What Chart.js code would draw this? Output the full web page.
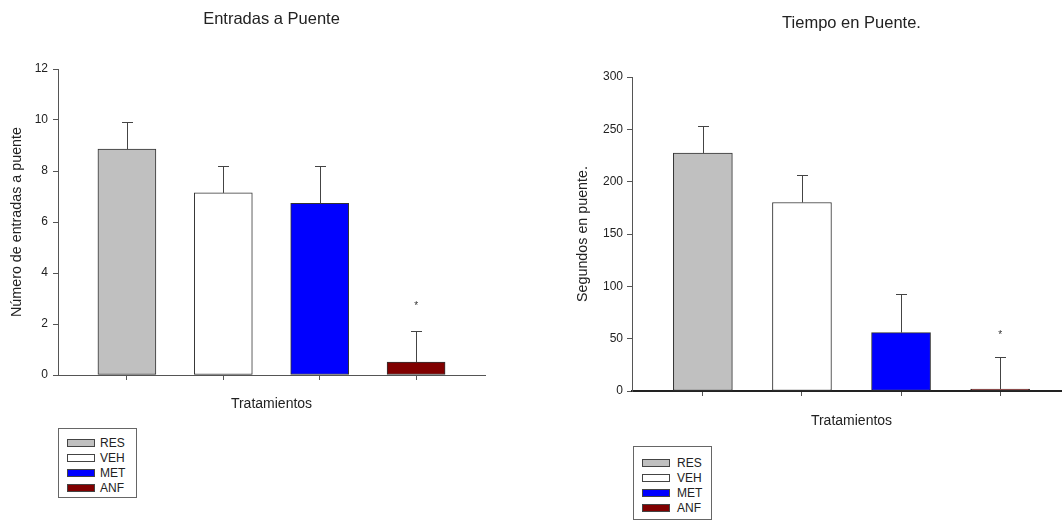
<!DOCTYPE html>
<html><head><meta charset="utf-8">
<script src="https://cdn.jsdelivr.net/npm/chart.js@4/dist/chart.umd.min.js"></script>
<style>
html,body{margin:0;padding:0;width:1062px;height:523px;overflow:hidden;background:#fff;font-family:"Liberation Sans",Arial,sans-serif;}
canvas{position:absolute;top:0;}
#c1{left:0}
#c2{left:540px}
.legend{position:absolute;border:1px solid #666;background:#fff;box-sizing:border-box}
.item{position:absolute;font-size:12px;color:#222;line-height:12px;height:12px;white-space:nowrap}
.sw{position:absolute;box-sizing:border-box;border:1px solid #444;width:28px;height:8px}
</style></head><body>
<canvas id="c1" width="540" height="523"></canvas>
<canvas id="c2" width="540" height="523"></canvas>
<div id="leg1" class="legend" style="left:58px;top:428px;width:79px;height:70px"></div>
<div id="leg2" class="legend" style="left:633px;top:446px;width:79px;height:74px"></div>
<script>
// ---- data ----
const categories = ['RES', 'VEH', 'MET', 'ANF'];
const barColors = ['#c0c0c0', '#ffffff', '#0000ff', '#800000'];

const entradasMean = [8.86, 7.14, 6.73, 0.51];
const entradasErr  = [1.05, 1.04, 1.45, 1.23];
const entradasTicks = [0, 2, 4, 6, 8, 10, 12];
const entradasStar = 2.81;   // value level of the "*" over ANF

const tiempoMean = [227.3, 180.1, 55.8, 1.9];
const tiempoErr  = [25.8, 26.1, 36.6, 30.9];
const tiempoTicks = [0, 50, 100, 150, 200, 250, 300];
const tiempoStar = 56.7;

const starIndex = 3;

Chart.defaults.font.family = '"Liberation Sans", Arial, sans-serif';
Chart.defaults.color = '#222';

function errorPlugin(means, errs, starValue) {
  return {
    id: 'errorBars',
    afterDatasetsDraw(chart) {
      const ctx = chart.ctx, xs = chart.scales.x, ys = chart.scales.y;
      ctx.save();
      ctx.strokeStyle = '#444';
      ctx.lineWidth = 1;
      means.forEach((m, i) => {
        const x = Math.round(xs.getPixelForValue(i)) + 0.5;
        const y0 = ys.getPixelForValue(m);
        const y1 = Math.round(ys.getPixelForValue(m + errs[i])) + 0.5;
        ctx.beginPath();
        ctx.moveTo(x, y0); ctx.lineTo(x, y1);
        ctx.moveTo(x - 5.5, y1); ctx.lineTo(x + 5.5, y1);
        ctx.stroke();
      });
      ctx.fillStyle = '#333';
      ctx.font = '10px "Liberation Sans", Arial, sans-serif';
      ctx.textAlign = 'center';
      ctx.textBaseline = 'alphabetic';
      ctx.fillText('*', xs.getPixelForValue(starIndex), ys.getPixelForValue(starValue) + 6);
      ctx.restore();
    }
  };
}

function makeChart(id, cfg) {
  const data = cfg.means.map((v, i) => ({x: i, y: v}));
  return new Chart(document.getElementById(id), {
    type: 'bar',
    data: {
      labels: categories,
      datasets: [{
        data: data,
        backgroundColor: barColors,
        borderColor: '#333',
        borderWidth: 1,
        borderSkipped: false,
        barThickness: cfg.barW
      }]
    },
    options: {
      responsive: false,
      animation: false,
      events: [],
      layout: {padding: {top: 0, left: 0, right: cfg.padRight, bottom: 0}},
      plugins: {
        legend: {display: false},
        tooltip: {enabled: false},
        title: {
          display: true, text: cfg.title, fullSize: false,
          font: {size: 16.5, weight: 'normal'}, color: '#222',
          padding: {top: cfg.titleTop, bottom: cfg.titleBottom}
        }
      },
      scales: {
        x: {
          type: 'linear', min: -0.715, max: 3.715, offset: false,
          afterBuildTicks: s => { s.ticks = categories.map((c, i) => ({value: i})); },
          afterFit: s => { s.height = cfg.xH; },
          ticks: {display: false},
          grid: {offset: false, drawOnChartArea: false, drawTicks: true, tickLength: 5, color: '#555'},
          border: {display: true, color: cfg.xBorderColor, width: cfg.xBorderW},
          title: {display: true, text: 'Tratamientos', font: {size: 14}, color: '#222',
                  padding: {top: 0, bottom: cfg.xTitlePad}}
        },
        y: {
          min: 0, max: cfg.ticks[cfg.ticks.length - 1],
          afterBuildTicks: s => { s.ticks = cfg.ticks.map(v => ({value: v})); },
          afterFit: s => { s.width = cfg.yW; },
          ticks: {font: {size: 12}, color: '#222', padding: cfg.tickPad},
          grid: {drawOnChartArea: false, drawTicks: true, tickLength: 5, color: '#555'},
          border: {display: true, color: '#555', width: 1},
          title: {display: true, text: cfg.yTitle, font: {size: 14.3}, color: '#222',
                  padding: {top: cfg.yTitlePad, bottom: 0}}
        }
      }
    },
    plugins: [errorPlugin(cfg.means, cfg.errs, cfg.star)]
  });
}

makeChart('c1', {
  means: entradasMean, errs: entradasErr, ticks: entradasTicks, star: entradasStar,
  title: 'Entradas a Puente', yTitle: 'Número de entradas a puente',
  barW: 58, padRight: 55, titleTop: 10, titleBottom: 39.2, xH: 148, yW: 58,
  xTitlePad: 110.6, yTitlePad: 8.4, tickPad: 5, xBorderColor: '#555', xBorderW: 1
});
makeChart('c2', {
  means: tiempoMean, errs: tiempoErr, ticks: tiempoTicks, star: tiempoStar,
  title: 'Tiempo en Puente.', yTitle: 'Segundos en puente.',
  barW: 59, padRight: 9, titleTop: 13.6, titleBottom: 43.6, xH: 132, yW: 92,
  xTitlePad: 93.6, yTitlePad: 34.4, tickPad: 4, xBorderColor: '#222', xBorderW: 2
});

function buildLegend(id, firstRow, textLeft) {
  const el = document.getElementById(id);
  categories.forEach((c, i) => {
    const cy = firstRow + 15 * i;
    const sw = document.createElement('div');
    sw.className = 'sw';
    sw.style.left = '8px';
    sw.style.top = (cy - 4) + 'px';
    sw.style.background = barColors[i];
    el.appendChild(sw);
    const t = document.createElement('div');
    t.className = 'item';
    t.style.left = textLeft + 'px';
    t.style.top = (cy - 6) + 'px';
    t.textContent = c;
    el.appendChild(t);
  });
}
buildLegend('leg1', 14, 41);
buildLegend('leg2', 16, 43);
</script>
</body></html>
